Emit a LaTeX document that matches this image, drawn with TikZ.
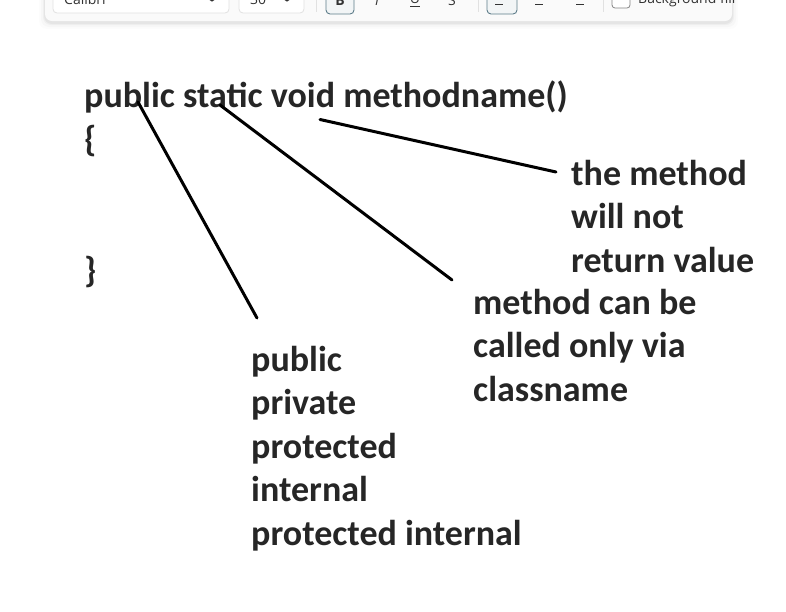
\documentclass[tikz,border=0pt]{standalone}
\usepackage{fontspec}
\setmainfont{Carlito}
\newfontfamily\uifont{Open Sans}
\usetikzlibrary{calc}
\definecolor{ink}{HTML}{262626}
\definecolor{uitext}{HTML}{333333}
\definecolor{panelfill}{HTML}{FAFAFA}
\definecolor{boxline}{HTML}{E1E1E1}
\definecolor{activeline}{HTML}{5E7D8A}
\definecolor{activefill}{HTML}{F2F5F6}
\begin{document}
\begin{tikzpicture}[x=1pt,y=-1pt,
  lbl/.style={anchor=base west, inner sep=0pt, font=\fontsize{36}{43.5}\selectfont\bfseries, text=ink},
  leader/.style={line width=3pt, draw=black, line cap=round},
  uibox/.style={draw=boxline, fill=white, rounded corners=4pt, line width=0.8pt},
  uiactive/.style={draw=activeline, fill=activefill, rounded corners=4pt, line width=0.9pt},
  uilbl/.style={anchor=base west, inner sep=0pt, font=\uifont\fontsize{14}{16}\selectfont, text=uitext},
  uimark/.style={draw=uitext, line width=1pt},
  sep/.style={draw=boxline, line width=0.8pt}]
\useasboundingbox (0,0) rectangle (786,611);
\clip (0,0) rectangle (786,611);
\fill[white] (0,0) rectangle (786,611);

% ---- toolbar (cut off at the top) ----
\foreach \k/\o in {6/0.012,4/0.02,2/0.03,1/0.04}{
  \fill[black, opacity=\o, rounded corners=8pt] (45-\k,-30) rectangle (732+\k,21+\k+2);
}
\path[fill=panelfill, rounded corners=7pt] (45,-30) rectangle (732,21);
\path[uibox] (53,-20) rectangle (229,13);
\node[uilbl] (fontname) at (64,4) {Calibri};
\draw[uimark] (209,-1) -- (212,1) -- (215,-1);
\path[uibox] (239,-20) rectangle (304,13);
\node[uilbl] (fontsize) at (250,4) {30};
\draw[uimark] (284,-1) -- (287,1) -- (290,-1);
\draw[sep] (316,-5) -- (316,12);
\path[uiactive] (326,-20) rectangle (354,14);
\node[uilbl, anchor=base, font=\uifont\bfseries\fontsize{14}{16}\selectfont] (boldbtn) at (340,5) {B};
\node[uilbl, anchor=base, font=\uifont\itshape\fontsize{14}{16}\selectfont] (italbtn) at (377,5) {I};
\node[uilbl, anchor=base] (undbtn) at (415,3) {U};
\draw[uimark] (410,6.5) -- (420,6.5);
\node[uilbl, anchor=base] (strbtn) at (452,5) {S};
\draw[sep] (478,-5) -- (478,12);
\path[uiactive] (487,-20) rectangle (517,14);
\draw[uimark] (495,4) -- (503,4);
\draw[uimark] (535,4) -- (543,4);
\draw[uimark] (576,4) -- (584,4);
\draw[sep] (603,-5) -- (603,12);
\path[draw=uitext!60, fill=white, rounded corners=3pt, line width=0.8pt] (612,-12) rectangle (630,8);
\node[uilbl] (bgfill) at (638,3) {Background fill};

% ---- code ----
\node[lbl] (sig) at (84,107) {public static void methodname()};
\node[lbl] (open) at (84,151) {\{};
\node[lbl] (close) at (84,282) {\}};

% ---- annotations ----
\node[lbl] (ret1) at (571,185) {the method};
\node[lbl] (ret2) at (571,228.5) {will not};
\node[lbl] (ret3) at (571,272) {return value};

\node[lbl] (st1) at (473,314) {method can be};
\node[lbl] (st2) at (473,357.5) {called only via};
\node[lbl] (st3) at (473,401) {classname};

\node[lbl] (ac1) at (251,371) {public};
\node[lbl] (ac2) at (251,414.5) {private};
\node[lbl] (ac3) at (251,458) {protected};
\node[lbl] (ac4) at (251,501.5) {internal};
\node[lbl] (ac5) at (251,545) {protected internal};

% ---- leader lines ----
\coordinate (pubTip) at (138,102);
\coordinate (pubEnd) at (257,318);
\coordinate (staTip) at (220,105);
\coordinate (staEnd) at (452,280);
\coordinate (voiTip) at (320,119.5);
\coordinate (voiEnd) at (556,172);
\draw[leader] (pubTip) -- (pubEnd);
\draw[leader] (staTip) -- (staEnd);
\draw[leader] (voiTip) -- (voiEnd);
\end{tikzpicture}
\end{document}
